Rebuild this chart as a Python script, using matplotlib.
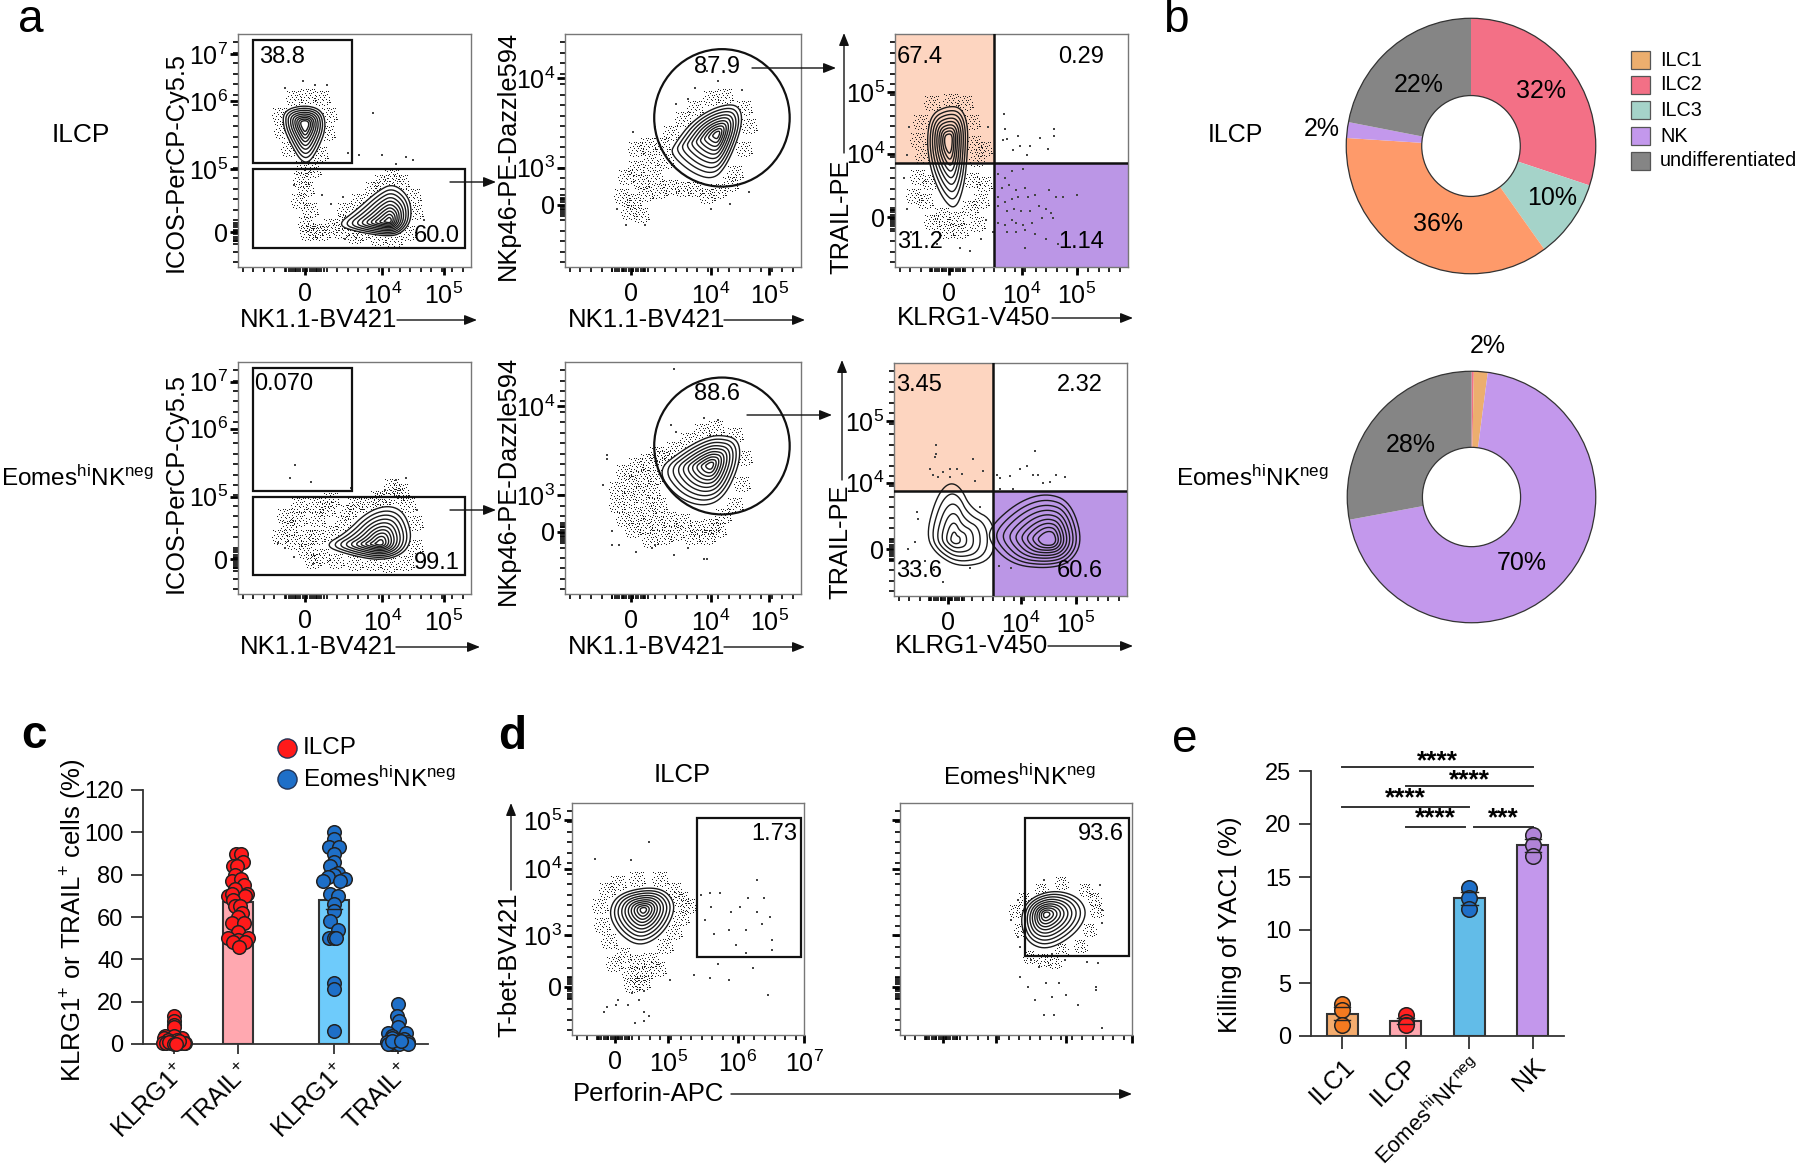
import numpy as np
import matplotlib
matplotlib.use("Agg")
import matplotlib.pyplot as plt
from matplotlib.patches import Polygon, Rectangle, Ellipse, Circle
from matplotlib.path import Path

plt.rcParams.update({
    'font.family': ['Liberation Sans', 'DejaVu Sans'],
    'mathtext.default': 'regular',
    'axes.linewidth': 1.0,
})

W, H = 1800, 1168

# ---- gate percentages ----
PIE_ILCP = [30, 10, 36, 2, 22]
PIE_ILCP_COL = ['#f37086', '#a5d3c9', '#fe9a6a', '#c398ec', '#858585']
PIE_EOMES = [0.3, 1.8, 70, 27.9]
PIE_EOMES_COL = ['#f37086', '#ecae6e', '#c398ec', '#858585']
LEGEND_NAMES = ['ILC1', 'ILC2', 'ILC3', 'NK', 'undifferentiated']
LEGEND_COLS = ['#ecae6e', '#f37086', '#a5d3c9', '#c398ec', '#858585']

# ---- panel c ----
C_POS = [1, 2, 3.5, 4.5]
C_HEIGHT = [2.5, 67, 68, 3]
C_LABELS = ['KLRG1$^{+}$', 'TRAIL$^{+}$', 'KLRG1$^{+}$', 'TRAIL$^{+}$']
C_ERR_MID = [2.5, 67, 64, 3]
c_klrg_ilcp = [(0, 13), (0, 11), (0, 9), (0, 8), (-0.14, 4), (-0.16, 3), (0.12, 3), (0, 4), (-0.1, 2),
               (0.05, 2), (-0.17, 0.5), (-0.12, 0.5), (-0.05, 0.5), (-0.03, 0.3), (0.1, 0.5), (0.18, 0.3),
               (0.15, 0.5), (-0.07, 1), (0.08, 1.5), (0, 0), (0.03, 0)]
c_trail_ilcp = [(-0.03, 90), (0.04, 90), (0.08, 86), (-0.08, 84), (-0.02, 84), (-0.05, 80), (-0.09, 77),
                (0.05, 78), (0.1, 75), (-0.04, 73), (-0.16, 70), (-0.1, 71), (0.14, 71), (0.11, 70),
                (-0.07, 68), (-0.04, 65), (0.03, 65), (0.06, 62), (0, 60), (-0.09, 57), (0.1, 57),
                (0, 53), (-0.16, 50), (0.16, 50), (0, 49), (-0.07, 48), (0.11, 48), (0.02, 46)]
c_klrg_eomes = [(0, 100), (0, 97), (-0.07, 93), (0.08, 93), (0, 90), (0, 86), (-0.06, 84), (0.07, 81),
                (0, 80), (-0.09, 79), (-0.17, 77), (0.18, 78), (0.1, 77), (-0.06, 71), (0.07, 70),
                (0, 66), (0, 63), (-0.06, 58), (0.07, 54), (-0.08, 50), (0, 50), (0.04, 50),
                (0, 29), (0, 26), (0, 6)]
c_trail_eomes = [(0, 19), (-0.02, 13), (0.02, 11), (0, 8), (-0.15, 5), (0.12, 5), (-0.09, 4), (-0.1, 3),
                 (0.1, 2.5), (-0.17, 1), (0.15, 1), (-0.1, 0), (-0.05, 0), (0.02, 0), (0.16, 0), (-0.15, 0),
                 (-0.09, 1.5), (0.05, 1.5)]

# ---- panel e ----
E_NAMES = ['ILC1', 'ILCP', 'Eomes$^{hi}$NK$^{neg}$', 'NK']
E_HEIGHT = [2.1, 1.4, 13, 18]
E_SD = [0.6, 0.3, 0.6, 0.6]
E_POINTS = [[3, 2.5, 1], [2, 1.3, 1], [14, 13, 12], [19, 18, 17]]
E_BAR_COL = ['#f4ac6e', '#ffa8b0', '#62bce8', '#c397ec']
E_DOT_COL = ['#f47a20', '#ff2020', '#1e6fc8', '#b184d8']
E_SIG = [(1, 4, 25.4, 25.9, '****'), (2, 4, 23.55, 24.1, '****'), (1, 3, 21.6, 22.4, '****'),
         (2, 2.93, 19.74, 20.55, '****'), (3.07, 4, 19.74, 20.55, '***')]

# ---- flow panels: contour outlines, cloud patches and single events (display %) ----
a1_blob1 = [(28.7, 69.2), (35.9, 67), (37.4, 59.8), (34.1, 51.2), (30.4, 45.5), (27.1, 46.2), (23.2, 52.7),
            (19.7, 60.5), (20.1, 67)]
a1_blob2 = [(66.5, 35.2), (73.1, 29.7), (74.2, 21), (70.9, 15.4), (65.4, 13.2), (51.2, 15.4), (43.5, 18.2),
            (51.2, 24), (60, 31.9)]
a1_cloud = [(24, 72), (30, 73), (36, 72), (18, 65), (39, 65), (19, 58), (38, 57), (22, 50), (35, 48), (28, 42),
            (32, 41), (27, 37), (29, 33), (26, 28), (31, 24), (29, 18), (33, 15), (36, 14), (40, 17), (30, 14),
            (44, 15), (46, 19), (53, 14), (62, 36), (66, 38), (70, 36), (58, 33), (75, 30), (52, 28), (76, 23),
            (46, 24), (73, 14), (60, 12), (67, 11), (50, 13)]
a1_stray = [(58, 66), (47, 49), (52, 48), (62, 48), (68, 44), (72, 47), (75, 46), (45, 30), (40, 27), (36, 31),
            (24, 35), (46, 12), (80, 20), (33, 78), (20, 77), (28, 80), (38, 78)]

a2_blob = [(71.4, 69.6), (74.7, 65.6), (73.6, 57), (68.2, 44), (62.8, 38.3), (54.1, 41.2), (45.5, 49), (47.6, 53.4),
           (54.1, 62), (62.8, 67.7)]
a2_cloud = [(30, 50), (35, 52), (30, 42), (36, 45), (26, 38), (32, 36), (38, 38), (24, 30), (29, 28), (34, 31),
            (40, 32), (27, 23), (32, 22), (45, 34), (50, 33), (55, 33), (60, 30), (65, 32), (70, 35), (72, 40),
            (76, 50), (78, 60), (76, 68), (68, 73), (62, 72), (55, 68), (50, 63), (45, 57), (41, 52), (43, 45)]
a2_stray = [(47, 70), (55, 77), (65, 80), (52, 72), (38, 60), (29, 58), (62, 25), (70, 27), (78, 32), (34, 18),
            (22, 25), (26, 18), (75, 76), (60, 84)]

a3_blob = [(22.3, 68.3), (28, 67.9), (30.8, 61.4), (30.8, 50), (29.4, 35.7), (25.8, 25.7), (20.8, 30), (15.8, 41.4),
           (14, 54.3), (15.8, 65)]
a3_cloud = [(16, 70), (24, 71), (30, 70), (11, 62), (33, 62), (10, 54), (34, 53), (12, 47), (35, 46), (38, 50),
            (10, 38), (15, 36), (33, 37), (38, 35), (13, 28), (20, 22), (26, 20), (32, 25), (37, 28), (8, 30),
            (16, 19), (28, 15), (22, 15), (35, 18)]
a3_stray = [(5, 25), (4, 38), (7, 15), (39, 20), (37, 12), (18, 10), (28, 8), (32, 7), (42, 15), (6, 60), (5, 48),
            (40, 60), (46.8, 65.7), (47.2, 59.3), (46.5, 54.3), (47.9, 55), (52.9, 56.4), (50.8, 50), (53.6, 52.1),
            (57.9, 51.9), (62.2, 55.4), (65.7, 50.7), (68.3, 59.3), (68.3, 56.4), (56.5, 47.9),
            (44, 40), (47, 38), (50, 41), (55, 42), (46, 34), (49, 35), (52, 33), (56, 34), (44, 30), (47, 28),
            (50, 29), (53, 30), (57, 30), (60, 31), (66, 33), (69, 30), (72, 30), (78, 31), (44, 26), (48, 24),
            (51, 25), (54, 24), (58, 24), (62, 26), (65, 25), (67, 23), (44, 19), (47, 18), (50, 20), (52, 19),
            (55, 18), (59, 19), (63, 21), (68, 21), (48, 15), (52, 15), (56, 16), (60, 14), (65, 12), (56, 8), (70, 10)]

a4_blob = [(64.3, 37.6), (70.9, 34.7), (74.2, 24.7), (70.9, 17.5), (61, 14.6), (46.8, 17.5), (38, 21), (46.8, 26),
           (55.6, 34.7)]
a4_cloud = [(18, 24), (22, 28), (26, 32), (24, 22), (30, 24), (29, 18), (34, 32), (38, 36), (33, 38), (26, 38),
            (20, 33), (40, 40), (47, 35), (50, 38), (45, 30), (40, 26), (34, 24), (36, 16), (42, 14), (32, 14),
            (50, 13), (58, 13), (65, 12), (72, 13), (76, 20), (76, 30), (73, 38), (68, 42), (62, 40), (70, 44),
            (66, 46), (60, 41), (55, 38)]
a4_stray = [(24, 16), (20, 20), (17, 22), (26, 42), (34, 42), (48, 42), (72, 50), (68, 49), (63, 45), (77, 36),
            (32, 13), (79, 14), (24.5, 55.5), (22.3, 49.8), (31.5, 48.1), (48.6, 45.5)]

a5_blob = [(64.9, 68.1), (73.2, 66.3), (73.6, 56.2), (67.1, 41.9), (58.4, 38.3), (47.6, 42.6), (40, 53.4), (49.8, 61.3),
           (58.4, 66.3)]
a5_cloud = [(25, 52), (30, 55), (35, 57), (22, 45), (28, 48), (33, 50), (38, 50), (22, 38), (27, 41), (32, 43),
            (37, 44), (25, 32), (30, 34), (35, 36), (40, 38), (29, 27), (34, 29), (39, 30), (44, 32), (36, 23),
            (42, 24), (47, 26), (50, 31), (56, 28), (62, 29), (67, 33), (54, 24), (60, 24), (65, 27), (72, 38),
            (75, 47), (76, 58), (72, 68), (64, 71), (58, 70), (52, 66), (46, 62), (42, 58), (39, 60)]
a5_stray = [(47, 70), (45, 73), (59, 76), (65, 75), (18, 58), (20, 27), (16, 47), (23, 21), (38, 21), (30, 18),
            (46, 17), (52, 20), (59, 15), (18, 60), (46, 97), (20, 21), (37, 20), (60, 15)]

a6_blob_left = [(23.3, 47.6), (28.3, 46), (32.6, 36.9), (42.3, 31.9), (42.3, 16), (28.3, 12.6), (18.3, 18.3),
                (14.3, 26), (18.3, 41)]
a6_blob_right = [(42.6, 29.7), (54, 39.7), (65.4, 43.3), (75.4, 39.7), (80.4, 24), (75.4, 14.7), (65.4, 12.3),
                 (51.1, 14), (41.9, 23.3)]
a6_stray = [(17.9, 65), (17.9, 61.1), (17.6, 59.7), (34, 58.7), (15.4, 54.6), (16.9, 51.9), (19, 51.1), (21.1, 53.1),
            (24, 54.6), (26.9, 54.6), (29.3, 52.4), (38.3, 53.6), (34.7, 49.4), (24, 51.1), (44, 52.1), (45.4, 50.7),
            (49.7, 51.4), (54, 54.3), (57, 55.7), (60.4, 62.4), (59.7, 52.1), (61.9, 52.1), (66.9, 48.9), (69.7, 51.9),
            (73.3, 51.1), (64, 48.6), (51.1, 46), (45.4, 46), (6, 20), (9, 23), (9.7, 36), (10.4, 33), (13.3, 15),
            (32.6, 12), (21, 6), (17, 11), (45, 13), (50, 12), (37, 38), (36, 24)]

d1_blob = [(32.1, 63.4), (40.6, 61.7), (44.3, 54.5), (38.7, 43.8), (29.3, 38.7), (20.9, 43.8), (16.3, 52.4), (20, 60.3)]
d1_cloud = [(15, 62), (20, 65), (28, 67), (38, 67), (44, 62), (12, 55), (47, 58), (50, 55), (13, 47), (47, 50),
            (16, 40), (44, 44), (40, 38), (22, 34), (28, 31), (34, 32), (18, 30), (25, 26), (31, 26), (37, 28),
            (26, 21), (30, 22)]
d1_stray = [(55.5, 60.3), (59.3, 61), (64, 61), (76, 59), (82.6, 59), (60, 55.2), (68.6, 53), (72.3, 55.2), (79.8, 53),
            (85.4, 50.9), (57.4, 49.5), (67.7, 45.1), (75.1, 45.1), (81.7, 47.9), (61, 43.5), (70.5, 38.7), (75.1, 35.4),
            (86.3, 40.9), (86.3, 36.6), (63, 30.7), (78, 28.7), (52.7, 25.8), (59.3, 24.4), (67.7, 23.7), (84.5, 17.2),
            (42.4, 23.7), (33.1, 83.2), (25.6, 75.3), (9.7, 76), (79.8, 66.7), (26, 18), (29, 15), (31, 19), (24, 13),
            (31, 10), (33, 8), (20, 15), (15, 12), (14, 10), (31, 6), (27, 5), (19, 13)]

d2_blob = [(65.7, 62.1), (76, 59.5), (80.1, 52.4), (75, 43.8), (63.8, 37.3), (55.3, 40.2), (52.2, 49.5), (55.3, 58.1)]
d2_cloud = [(50, 53), (52, 45), (54, 58), (80, 62), (84, 58), (85, 53), (82, 45), (78, 38), (70, 36), (62, 32),
            (67, 31), (56, 33), (61, 62), (70, 65)]
d2_stray = [(47.8, 49.5), (50.7, 58.1), (50.7, 42.3), (51.6, 38), (56.3, 32.3), (60, 29.4), (65.7, 35.1), (71.3, 32.3),
            (80.7, 31.6), (85.4, 30.9), (51.6, 25.1), (55.3, 20.8), (62.9, 22.2), (68.5, 22.2), (58.2, 15.1),
            (65.7, 16.5), (71.7, 17.2), (84.5, 20.8), (84.5, 19.4), (76.9, 13), (61.9, 8.6), (66.2, 8.6), (87, 2.9),
            (86.1, 64.6), (87, 53.8), (87, 48.1), (61.9, 66.7)]

RING_SCALE = [1, .88, .77, .66, .56, .46, .37, .28, .19, .10]
PEACH = '#fdd5c0'
VIOLET = '#bb96e6'

# one patch of events: a fixed group of specks drawn as one marker
SPECKS = [(-.45, -.2), (-.3, .35), (-.18, -.42), (-.1, .05), (.02, .42), (.08, -.15), (.2, .2), (.3, -.38),
          (.42, .08), (-.38, .12), (.15, -.45), (-.05, .28), (.38, .4), (.25, -.05), (-.24, -.08), (-.44, .42),
          (-.12, -.25), (.12, .34), (.33, .24), (.46, -.27), (-.34, -.36), (.0, -.05), (-.2, .2), (.1, .08),
          (-.02, -.38), (.28, -.22), (-.47, -.02), (.22, .44), (.4, -.12), (-.15, .45), (.05, .2), (-.28, -.22)]
speck_marker = Path.make_compound_path(*[Path.unit_rectangle().transformed(
    matplotlib.transforms.Affine2D().scale(.062).translate(sx, sy)) for sx, sy in SPECKS])


fig = plt.figure(figsize=(W / 100, H / 100), dpi=100, facecolor='white')


def axes_px(x0, y0, x1, y1, **kw):
    return fig.add_axes([x0 / W, 1 - y1 / H, (x1 - x0) / W, (y1 - y0) / H], **kw)


def smooth(pts, n=3):
    p = np.asarray(pts, dtype=float)
    for _ in range(n):
        q = np.roll(p, -1, axis=0)
        p = np.column_stack([0.75 * p + 0.25 * q, 0.25 * p + 0.75 * q]).reshape(-1, 2)
    return p


def draw_blob(ax, outline, centre, nrings, quads=(), scales=RING_SCALE):
    c = np.asarray(centre)
    p = smooth(outline)
    p = c + 1.05 * (p - c)  # corner cutting pulls the outline in a little
    base = Polygon(p, closed=True, fc='white', ec='none', zorder=3)
    ax.add_patch(base)
    for (qx, qy, qw, qh, qc) in quads:
        r = Rectangle((qx, qy), qw, qh, fc=qc, ec='none', zorder=3.1)
        ax.add_patch(r)
        r.set_clip_path(base)
    for f in scales[:nrings]:
        ax.add_patch(Polygon(c + f * (p - c), closed=True, fc='none', ec='#1a1a1a', lw=1.0, zorder=4))


def flow_axes(box, xt, xl, yt, yl):
    ax = axes_px(*box)
    ax.set_xlim(0, 100)
    ax.set_ylim(0, 100)
    for s in ax.spines.values():
        s.set_color('#777777')
        s.set_linewidth(1.0)
    ax.set_xticks(xt)
    ax.set_xticklabels(xl, fontsize=18)
    ax.set_yticks(yt)
    ax.set_yticklabels(yl, fontsize=18)
    ax.tick_params(axis='both', which='major', length=6, width=2.0, pad=5, color='black')
    ax.tick_params(axis='y', which='major', pad=1)
    # dense cluster round zero, sparse ones elsewhere
    zero_x, zero_y = xt[0], yt[-1] if yt[-1] < yt[0] else yt[0]
    ax.set_xticks(list(np.arange(2, 100, 4.5)) + list(np.arange(zero_x - 8, zero_x + 8, 1.0)), minor=True)
    ax.set_yticks(list(np.arange(2, 100, 4.5)) + list(np.arange(zero_y - 5, zero_y + 5, 1.0)), minor=True)
    ax.tick_params(axis='both', which='minor', length=3.5, width=1.2, color='black')
    return ax


def events(ax, cloud=(), stray=(), cloud_size=150):
    if len(cloud):
        c = np.array(cloud)
        ax.scatter(c[:, 0], c[:, 1], s=cloud_size, marker=speck_marker, c='#222222', lw=0, zorder=2)
    if len(stray):
        s = np.array(stray)
        ax.scatter(s[:, 0], s[:, 1], s=1.5, marker='s', c='#444444', lw=0, zorder=2)


def gate_labels(ax, items):
    for x, y, t in items:
        ax.text(x, y, t, fontsize=17, ha='center', va='center', zorder=6)


def gate_rect(ax, x0, x1, y0, y1):
    ax.add_patch(Rectangle((x0, y0), x1 - x0, y1 - y0, fc='none', ec='#111111', lw=1.6, zorder=5))


def quadrants(ax, vx, hy):
    ax.add_patch(Rectangle((0, hy), vx, 100 - hy, fc=PEACH, ec='none', zorder=0))
    ax.add_patch(Rectangle((vx, 0), 100 - vx, hy, fc=VIOLET, ec='none', zorder=0))
    ax.axvline(vx, color='#111111', lw=1.8, zorder=5)
    ax.axhline(hy, color='#111111', lw=1.8, zorder=5)


P = lambda n: '$10^{%d}$' % n

# ---- panel a, top row ----
ax = flow_axes((238, 34, 471, 267), [28.7, 62, 88.4], ['0', P(4), P(5)], [91.5, 71.3, 41.9, 15],
               [P(7), P(6), P(5), '0'])
events(ax, a1_cloud, a1_stray)
draw_blob(ax, a1_blob1, (28.7, 61.3), 9)
draw_blob(ax, a1_blob2, (64.8, 19.7), 10)
gate_rect(ax, 6.3, 49, 44.6, 97.3)
gate_rect(ax, 6.3, 97.4, 8.2, 41.9)
gate_labels(ax, [(19, 90, '38.8'), (85.5, 13.5, '60.0')])

ax = flow_axes((565, 34, 801, 267), [28, 61.7, 86.6], ['0', P(4), P(5)], [81, 42.6, 26.8], [P(4), P(3), '0'])
events(ax, a2_cloud, a2_stray)
draw_blob(ax, a2_blob, (64.5, 57), 10)
ax.add_patch(Ellipse((66.5, 64), 57.4, 59, fc='none', ec='#111111', lw=1.6, zorder=5))
gate_labels(ax, [(64.5, 85.9, '87.9')])

ax = flow_axes((895, 34, 1128, 267), [23, 54.4, 77.9], ['0', P(4), P(5)], [75, 48.6, 21.4], [P(5), P(4), '0'])
quadrants(ax, 42.5, 44.6)
events(ax, a3_cloud, a3_stray)
draw_blob(ax, a3_blob, (23, 54.3), 9, quads=[(0, 44.6, 42.5, 55.4, PEACH)])
gate_labels(ax, [(10.6, 90.3, '67.4'), (79.7, 90.3, '0.29'), (10.8, 10.7, '31.2'), (80, 10.7, '1.14')])

# ---- panel a, bottom row ----
ax = flow_axes((238, 362, 471, 594), [28.7, 62, 88.4], ['0', P(4), P(5)], [91.5, 71.3, 41.9, 15],
               [P(7), P(6), P(5), '0'])
events(ax, a4_cloud, a4_stray)
draw_blob(ax, a4_blob, (61, 21.8), 10)
gate_rect(ax, 6.3, 49, 44.5, 97.3)
gate_rect(ax, 6.3, 97.4, 8, 41.9)
gate_labels(ax, [(19.5, 90.4, '0.070'), (85.5, 13.5, '99.1')])

ax = flow_axes((565, 362, 801, 594), [28, 61.7, 86.6], ['0', P(4), P(5)], [81, 42.6, 26.8], [P(4), P(3), '0'])
events(ax, a5_cloud, a5_stray)
draw_blob(ax, a5_blob, (61.7, 55.5), 10)
ax.add_patch(Ellipse((66.5, 63.8), 57.4, 59, fc='none', ec='#111111', lw=1.6, zorder=5))
gate_labels(ax, [(64.5, 86, '88.6')])

ax = flow_axes((894, 363, 1127, 596), [23, 54.4, 77.9], ['0', P(4), P(5)], [75, 48.6, 20], [P(5), P(4), '0'])
quadrants(ax, 42.3, 45)
events(ax, (), a6_stray)
draw_blob(ax, a6_blob_left, (26, 24), 6, quads=[(0, 45, 42.3, 55, PEACH)],
          scales=[1, .82, .64, .47, .3, .14])
draw_blob(ax, a6_blob_right, (66.9, 24), 9, quads=[(42.3, 0, 57.7, 45, VIOLET)])
gate_labels(ax, [(10.7, 90.4, '3.45'), (79.7, 90.4, '2.32'), (10.7, 10.7, '33.6'), (79.7, 10.7, '60.6')])

# ---- panel d ----
ax = flow_axes((572, 803, 804, 1035), [18.7, 41.5, 71.4, 100], ['0', P(5), P(6), P(7)], [92.5, 71.7, 43, 20.8],
               [P(5), P(4), P(3), '0'])
events(ax, d1_cloud, d1_stray)
draw_blob(ax, d1_blob, (30.8, 54), 10)
gate_rect(ax, 54, 98.7, 33.7, 93.7)
gate_labels(ax, [(87, 86.8, '1.73')])

ax = flow_axes((900, 803, 1132, 1035), [18.7, 41.5, 71.4, 100], ['', '', '', ''], [92.5, 71.7, 43, 20.8],
               ['', '', '', ''])
events(ax, d2_cloud, d2_stray, cloud_size=110)
draw_blob(ax, d2_blob, (62.9, 52), 10)
gate_rect(ax, 54, 98.9, 34.1, 93.7)
gate_labels(ax, [(86.7, 86.8, '93.6')])

# ---- panel b ----
for (box, vals, cols) in [((1345, 17, 1597, 275), PIE_ILCP, PIE_ILCP_COL),
                          ((1346, 370, 1597, 624), PIE_EOMES, PIE_EOMES_COL)]:
    ax = axes_px(*box)
    ax.pie(vals, colors=cols, startangle=90, counterclock=False, radius=1.0,
           wedgeprops=dict(width=0.605, edgecolor='none'))
    ax.add_patch(Circle((0, 0), 1.0, fc='none', ec='#333333', lw=0.9))
    ax.add_patch(Circle((0, 0), 0.395, fc='none', ec='#333333', lw=0.9))
    ax.set_xlim(-1.01, 1.01)
    ax.set_ylim(-1.01, 1.01)
    ax.set_aspect('auto')

# ---- panel c ----
ax = axes_px(143, 790, 428, 1044)
ax.set_xlim(0.516, 4.97)
ax.set_ylim(0, 120)
ax.bar(C_POS, C_HEIGHT, width=0.48, color=['#ffa8b0', '#ffa8b0', '#6ecbfb', '#6ecbfb'], edgecolor='#333333',
       linewidth=1.5, zorder=2)
for x0, pts, col in [(1, c_klrg_ilcp, '#ff1a1a'), (2, c_trail_ilcp, '#ff1a1a'), (3.5, c_klrg_eomes, '#1e6fc8'),
                     (4.5, c_trail_eomes, '#1e6fc8')]:
    p = np.array(pts)
    ax.scatter(x0 + p[:, 0], p[:, 1], s=95, c=col, edgecolors='#222222', linewidths=1.1, zorder=3, clip_on=False)
ax.plot([3.37, 3.63], [C_ERR_MID[2]] * 2, color='#222222', lw=1, zorder=4)
ax.set_xticks(C_POS)
ax.set_xticklabels(C_LABELS, rotation=45, ha='right', rotation_mode='anchor', fontsize=18)
ax.set_yticks(range(0, 121, 20))
ax.tick_params(axis='y', labelsize=17, length=9, width=1.3, color='#333333', pad=5)
ax.tick_params(axis='x', length=7, width=1.3, color='#333333', pad=4)
for s in ('top', 'right'):
    ax.spines[s].set_visible(False)
for s in ('left', 'bottom'):
    ax.spines[s].set_linewidth(1.3)
    ax.spines[s].set_color('#333333')
ax.patch.set_alpha(0)

# ---- panel e ----
ax = axes_px(1311, 771, 1564, 1036)
ax.set_xlim(0.51, 4.49)
ax.set_ylim(0, 25)
ex = np.arange(1, 5)
ax.bar(ex, E_HEIGHT, width=0.49, color=E_BAR_COL, edgecolor='#333333', linewidth=1.5, zorder=2)
for x0, vals, col, top, sd in zip(ex, E_POINTS, E_DOT_COL, E_HEIGHT, E_SD):
    ax.scatter([x0] * len(vals), vals, s=125, c=col, edgecolors='#222222', linewidths=1.1, zorder=3, clip_on=False)
    ax.plot([x0 - .13, x0 + .13], [top + sd, top + sd], color='#222222', lw=1, zorder=4)
    ax.plot([x0 - .13, x0 + .13], [top - sd, top - sd], color='#222222', lw=1, zorder=4)
for x0, x1, yl, ys, t in E_SIG:
    ax.plot([x0, x1], [yl, yl], color='#333333', lw=1.4, clip_on=False)
    ax.text((x0 + x1) / 2, ys, t, fontsize=19, fontweight='bold', ha='center', va='center', clip_on=False)
ax.set_xticks(ex)
ax.set_xticklabels(E_NAMES, rotation=45, ha='right', rotation_mode='anchor', fontsize=18)
ax.get_xticklabels()[2].set_fontsize(15.8)
ax.set_yticks(range(0, 26, 5))
ax.tick_params(axis='y', labelsize=17, length=9, width=1.3, color='#333333', pad=5)
ax.tick_params(axis='x', length=9, width=1.3, color='#333333', pad=4)
for s in ('top', 'right'):
    ax.spines[s].set_visible(False)
for s in ('left', 'bottom'):
    ax.spines[s].set_linewidth(1.3)
    ax.spines[s].set_color('#333333')
ax.patch.set_alpha(0)

# ---- overlay in pixel units for labels and arrows ----
ov = fig.add_axes([0, 0, 1, 1], zorder=20)
ov.set_xlim(0, W)
ov.set_ylim(H, 0)
ov.axis('off')
ov.patch.set_alpha(0)


def arrow(x0, y0, x1, y1, lw=1.0):
    ov.annotate('', xy=(x1, y1), xytext=(x0, y0),
                arrowprops=dict(arrowstyle='-|>,head_length=0.75,head_width=0.3', color='#111111', lw=lw,
                                shrinkA=0, shrinkB=0))


def label(x, y, t, size=18.5, ha='center', rot=0, **kw):
    ov.text(x, y, t, fontsize=size, ha=ha, va='center', rotation=rot, rotation_mode='anchor' if rot else 'default', **kw)


EOMES = 'Eomes$^{hi}$NK$^{neg}$'
for x, y, t, w in [(18, 20, 'a', 'normal'), (1163, 20, 'b', 'normal'), (21, 736, 'c', 'bold'), (498, 737, 'd', 'bold'),
                   (1172, 740, 'e', 'normal')]:
    label(x, y, t, size=33, ha='left', fontweight=w)

label(81, 135, 'ILCP', size=19)
label(1, 478, EOMES, size=17.5, ha='left')
label(1235, 135, 'ILCP', size=18)
label(1176, 478, EOMES, size=17.5, ha='left')

# x labels with their arrows
for y, xl, t, ax0, ax1 in [(320, 240, 'NK1.1-BV421', 397, 477), (320, 568, 'NK1.1-BV421', 724, 805),
                           (318, 897, 'KLRG1-V450', 1052, 1133), (647, 240, 'NK1.1-BV421', 396, 480),
                           (647, 568, 'NK1.1-BV421', 724, 805), (646, 895, 'KLRG1-V450', 1048, 1133)]:
    label(xl, y, t, size=18.5, ha='left')
    arrow(ax0, y, ax1, y)

# y labels
for x, y, t in [(176, 162, 'ICOS-PerCP-Cy5.5'), (176, 483, 'ICOS-PerCP-Cy5.5'),
                (508, 155, 'NKp46-PE-Dazzle594'), (508, 480, 'NKp46-PE-Dazzle594'),
                (841, 217, 'TRAIL-PE'), (840, 542, 'TRAIL-PE')]:
    label(x, y, t, size=18.3, rot=90)
arrow(844, 153, 844, 33)
arrow(842, 480, 842, 360)

# gating arrows
arrow(450, 182, 496, 182)
arrow(752, 68, 836, 68)
arrow(450, 510, 496, 510)
arrow(747, 415, 832, 415)

# panel b text and legend
for x, y, t in [(1541, 91, '32%'), (1552, 198, '10%'), (1438, 224, '36%'), (1419, 85, '22%'), (1322, 129, '2%'),
                (1488, 346, '2%'), (1411, 445, '28%'), (1522, 563, '70%')]:
    label(x, y, t, size=18)
for y, name, col in zip([60, 85, 110, 136, 161], LEGEND_NAMES, LEGEND_COLS):
    ov.add_patch(Rectangle((1631, y - 9), 19, 18, fc=col, ec='#555555', lw=0.9))
    label(1660, y, name, size=14.3, ha='left')

# panel c labels and legend
label(74, 920, 'KLRG1$^{+}$ or TRAIL$^{+}$ cells (%)', size=18.5, rot=90)
for y, t, col in [(748, 'ILCP', '#ff1a1a'), (779, EOMES, '#1e6fc8')]:
    ov.scatter([287], [y], s=190, c=col, edgecolors='#223355', linewidths=1.0)
    label(303, y, t, size=17.5, ha='left')

# panel d labels
label(682, 775, 'ILCP', size=18.5)
label(1019, 777, EOMES, size=17.5)
label(509, 965, 'T-bet-BV421', size=18.5, rot=90)
arrow(511, 890, 511, 803)
label(573, 1094, 'Perforin-APC', size=18.5, ha='left')
arrow(731, 1094, 1132, 1094)

# panel e label
label(1230, 925, 'Killing of YAC1 (%)', size=18.5, rot=90)

fig.savefig('out.png', dpi=100)
